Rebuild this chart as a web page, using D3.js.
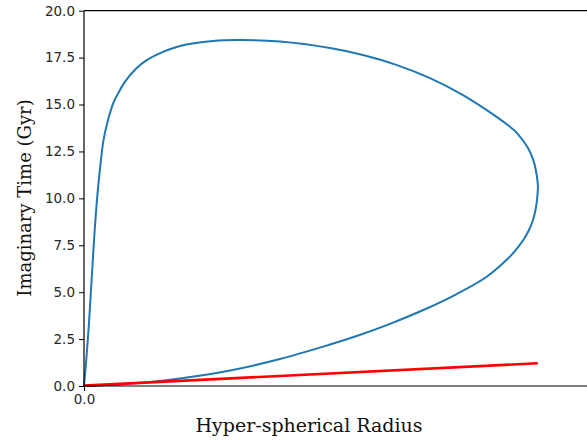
<!DOCTYPE html>
<html>
<head>
<meta charset="utf-8">
<script src="https://cdn.jsdelivr.net/npm/d3@7"></script>
<style>
  body { margin: 0; background: #fff; }
  svg { display: block; }
  .tick text { font-family: "DejaVu Sans", sans-serif; font-size: 13.5px; fill: #262626; }
  .axlabel { font-family: "DejaVu Serif", "Liberation Serif", serif; fill: #111; }
</style>
</head>
<body>
<div id="chart"></div>
<script>
// hyper-spherical radius (normalised) vs imaginary time (Gyr)
const radiusVals = [0, 0.0044, 0.0099, 0.0145, 0.0190, 0.0236, 0.0291, 0.0366, 0.0430, 0.0529,
  0.0646, 0.0793, 0.0881, 0.1161, 0.1382, 0.1631, 0.2115, 0.2843, 0.3394, 0.4319,
  0.5421, 0.6148, 0.6897, 0.7625, 0.8352, 0.9101, 0.9339, 0.9542, 0.9784, 0.9901, 0.9956,
  1.0002, 0.9982, 0.9949, 0.9894, 0.9806, 0.9681, 0.9531, 0.9354, 0.8874, 0.8213, 0.7477,
  0.6743, 0.6009, 0.5421, 0.4319, 0.3217, 0.2115, 0.1382, 0.0639, 0];
const timeVals = [0, 1.225, 2.983, 4.742, 6.553, 8.311, 10.069, 11.881, 13.106, 14.172,
  15.077, 15.770, 16.143, 16.942, 17.368, 17.688, 18.114, 18.381, 18.434, 18.354,
  18.008, 17.635, 17.102, 16.409, 15.503, 14.331, 13.905, 13.479, 12.680, 12.040, 11.508,
  10.656, 9.909, 9.377, 8.844, 8.311, 7.778, 7.299, 6.819, 5.823, 4.901, 4.049,
  3.314, 2.664, 2.211, 1.438, 0.826, 0.400, 0.197, 0.064, 0];

// red straight line
const lineRadius = [0, 1.0];
const lineTime = [0.02, 1.21];

const yTicks = [0, 2.5, 5, 7.5, 10, 12.5, 15, 17.5, 20];
const xTicks = [0];

const width = 587, height = 441;
const margin = { left: 84, top: 10.7, bottom: 55 };

const svg = d3.select("#chart").append("svg")
  .attr("width", width)
  .attr("height", height);

const x = d3.scaleLinear().domain([0, 1.15]).range([margin.left, 84 + 453.8 * 1.15]);
const y = d3.scaleLinear().domain([0, 20]).range([386, margin.top]);

const blue = radiusVals.map((r, i) => [r, timeVals[i]]);
const red = lineRadius.map((r, i) => [r, lineTime[i]]);

const line = d3.line()
  .x(d => x(d[0]))
  .y(d => y(d[1]))
  .curve(d3.curveCatmullRom.alpha(0.5));

svg.append("path")
  .datum(blue)
  .attr("d", line)
  .attr("fill", "none")
  .attr("stroke", "#1f77b4")
  .attr("stroke-width", 2);

svg.append("path")
  .datum(red)
  .attr("d", d3.line().x(d => x(d[0])).y(d => y(d[1])))
  .attr("fill", "none")
  .attr("stroke", "#ff0000")
  .attr("stroke-width", 2.6);

// axes
const yAxis = d3.axisLeft(y).tickValues(yTicks).tickFormat(d3.format(".1f")).tickSize(5).tickPadding(4);
const yg = svg.append("g").attr("transform", `translate(${margin.left},0)`).call(yAxis);
yg.select(".domain").remove();

const xAxis = d3.axisBottom(x).tickValues(xTicks).tickFormat(d3.format(".1f")).tickSize(5).tickPadding(3);
const xg = svg.append("g").attr("transform", "translate(0,386)").call(xAxis);
xg.select(".domain").remove();

svg.selectAll(".tick line").attr("stroke", "#000").attr("stroke-width", 1);

// spines (right one falls outside the picture)
svg.append("line").attr("x1", margin.left).attr("x2", width).attr("y1", 386).attr("y2", 386)
  .attr("stroke", "#000").attr("stroke-width", 1.2);
svg.append("line").attr("x1", margin.left).attr("x2", width).attr("y1", margin.top).attr("y2", margin.top)
  .attr("stroke", "#000").attr("stroke-width", 1.2);
svg.append("line").attr("x1", margin.left).attr("x2", margin.left).attr("y1", margin.top).attr("y2", 386)
  .attr("stroke", "#000").attr("stroke-width", 1.2);

svg.append("text")
  .attr("class", "axlabel")
  .attr("x", 309)
  .attr("y", 432)
  .attr("text-anchor", "middle")
  .style("font-size", "19px")
  .text("Hyper-spherical Radius");

svg.append("text")
  .attr("class", "axlabel")
  .attr("transform", "translate(31,198) rotate(-90)")
  .attr("text-anchor", "middle")
  .style("font-size", "18px")
  .text("Imaginary Time (Gyr)");
</script>
</body>
</html>
